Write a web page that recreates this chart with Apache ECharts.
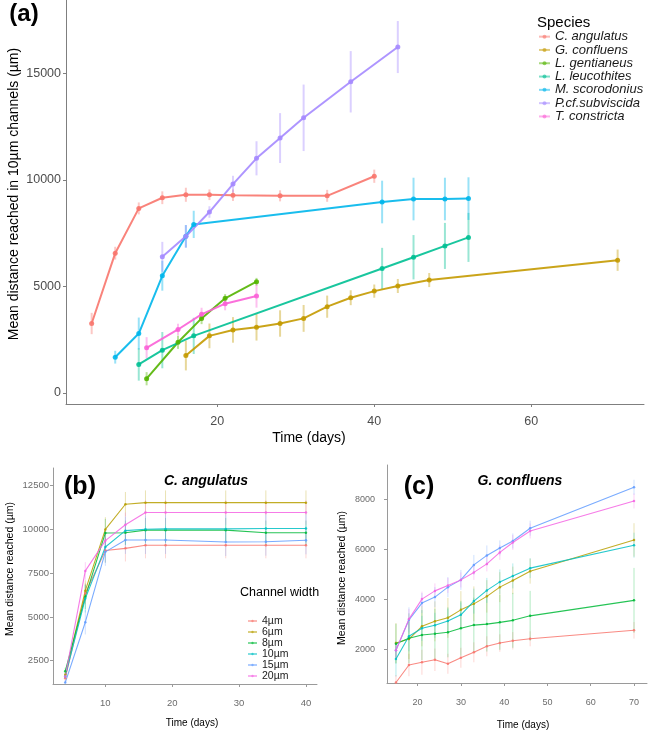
<!DOCTYPE html>
<html>
<head>
<meta charset="utf-8">
<script src="https://cdn.jsdelivr.net/npm/echarts@6/dist/echarts.min.js"></script>
<style>
  html, body { margin: 0; padding: 0; background: #fff; }
  #chart { width: 648px; height: 730px; }
</style>
</head>
<body>
<div id="chart"></div>
<script>
// ---- panel (a): species in 10um channels ----
const speciesNames = ['C. angulatus', 'G. confluens', 'L. gentianeus', 'L. leucothites', 'M. scorodonius', 'P.cf.subviscida', 'T. constricta'];
const speciesColors = ['#F8766D', '#C49A00', '#53B400', '#00C094', '#00B6EB', '#A58AFF', '#FB61D7'];

const angDays = [4, 7, 10, 13, 16, 19, 22, 28, 34, 40];
const angMean = [3260, 6560, 8660, 9160, 9300, 9300, 9280, 9250, 9250, 10170];
const angErr = [500, 300, 280, 300, 330, 250, 270, 260, 280, 310];

const gconDays = [16, 19, 22, 25, 28, 31, 34, 37, 40, 43, 47, 71];
const gconMean = [1760, 2680, 2960, 3080, 3260, 3500, 4050, 4470, 4780, 5020, 5300, 6230];
const gconErr = [700, 580, 600, 620, 620, 630, 520, 350, 310, 330, 330, 500];

const lgenDays = [11, 15, 18, 21, 25];
const lgenMean = [670, 2380, 3500, 4440, 5220];
const lgenErr = [310, 310, 270, 200, 180];

const lleuDays = [10, 13, 17, 41, 45, 49, 52];
const lleuMean = [1340, 2010, 2680, 5840, 6370, 6900, 7300];
const lleuErr = [760, 850, 850, 970, 1040, 1080, 1150];

const mscoDays = [7, 10, 13, 16, 17, 41, 45, 49, 52];
const mscoMean = [1680, 2790, 5500, 7350, 7910, 8960, 9100, 9100, 9120];
const mscoErr = [300, 750, 700, 530, 640, 1000, 1000, 1000, 1000];

const pcfDays = [13, 16, 19, 22, 25, 28, 31, 37, 43];
const pcfMean = [6390, 7350, 8490, 9800, 11010, 11960, 12910, 14600, 16230];
const pcfErr = [700, 530, 270, 390, 800, 1170, 1560, 1440, 1220];

const tconDays = [11, 15, 18, 21, 25];
const tconMean = [2120, 2980, 3690, 4190, 4550];
const tconErr = [500, 270, 310, 310, 545];

const aXTicks = [20, 40, 60];
const aYTicks = [0, 5000, 10000, 15000];

// ---- panel (b): C. angulatus by channel width ----
const widthNames = ['4µm', '6µm', '8µm', '10µm', '15µm', '20µm'];
const widthColors = ['#F8766D', '#B79F00', '#00BA38', '#00BFC4', '#619CFF', '#F564E3'];

const bDays = [4, 7, 10, 13, 16, 19, 28, 34, 40];
const b4 = [1500, 6350, 8800, 8920, 9100, 9100, 9100, 9100, 9100];
const b6 = [1700, 6500, 10000, 11440, 11530, 11530, 11530, 11530, 11530];
const b8 = [1900, 6150, 9800, 9810, 9960, 9960, 9960, 9810, 9810];
const b10 = [1600, 6050, 9000, 9930, 10010, 10030, 10030, 10050, 10050];
const b15 = [1250, 4700, 8720, 9400, 9400, 9400, 9280, 9300, 9380];
const b20 = [1600, 7630, 9360, 10270, 10970, 10970, 10970, 10970, 10970];
const b4Err = [150, 600, 700, 750, 750, 750, 750, 750, 750];
const b6Err = [150, 600, 700, 700, 700, 700, 700, 700, 700];
const b8Err = [200, 700, 800, 700, 700, 700, 700, 700, 700];
const b10Err = [150, 800, 900, 800, 800, 800, 800, 800, 800];
const b15Err = [150, 700, 800, 800, 800, 800, 800, 800, 800];
const b20Err = [150, 500, 700, 700, 700, 700, 700, 700, 700];
const bXTicks = [10, 20, 30, 40];
const bYTicks = [2500, 5000, 7500, 10000, 12500];

// ---- panel (c): G. confluens by channel width ----
const cDays = [15, 18, 21, 24, 27, 30, 33, 36, 39, 42, 46, 70];
const c4 = [660, 1360, 1470, 1570, 1410, 1650, 1870, 2110, 2240, 2330, 2410, 2750];
const c6 = [2240, 2400, 2910, 3110, 3250, 3570, 3810, 4110, 4480, 4750, 5120, 6370];
const c8 = [2210, 2430, 2560, 2610, 2670, 2830, 2960, 3000, 3070, 3150, 3330, 3950];
const c10 = [1600, 2510, 2830, 2950, 3120, 3370, 3920, 4350, 4690, 4930, 5240, 6160];
const c15 = [1950, 3170, 3840, 4080, 4480, 4770, 5370, 5750, 6050, 6330, 6840, 8480];
const c20 = [1950, 3200, 4000, 4330, 4550, 4770, 5070, 5410, 5870, 6270, 6730, 7930];
const c4Err = [300, 450, 500, 450, 400, 400, 400, 400, 350, 350, 300, 330];
const c6Err = [800, 800, 800, 800, 800, 750, 700, 650, 600, 550, 500, 670];
const c8Err = [800, 1000, 1000, 1000, 1000, 1100, 1100, 1100, 1100, 1100, 1000, 1300];
const c10Err = [700, 600, 500, 500, 500, 500, 500, 500, 500, 500, 400, 500];
const c15Err = [300, 500, 400, 400, 400, 400, 400, 400, 300, 300, 300, 300];
const c20Err = [300, 400, 300, 300, 300, 300, 300, 300, 300, 300, 300, 300];
const cXTicks = [20, 30, 40, 50, 60, 70];
const cYTicks = [2000, 4000, 6000, 8000];

const FONT = 'Liberation Sans, Arial, sans-serif';

function rgba(hex, a) {
  const n = parseInt(hex.slice(1), 16);
  return 'rgba(' + (n >> 16) + ',' + ((n >> 8) & 255) + ',' + (n & 255) + ',' + a + ')';
}

function lineSeries(name, days, means, color, gi, lw, sym, op) {
  return {
    name: name, type: 'line', xAxisIndex: gi, yAxisIndex: gi,
    data: days.map((d, i) => [d, means[i]]),
    symbol: 'circle', symbolSize: sym, showSymbol: true,
    itemStyle: { color: color, opacity: op },
    lineStyle: { color: color, width: lw, opacity: op },
    emphasis: { disabled: true }, z: 3
  };
}

function errSeries(days, means, errs, color, gi, lw, alpha) {
  return {
    type: 'custom', xAxisIndex: gi, yAxisIndex: gi, clip: true, silent: true, z: 2,
    data: days.map((d, i) => [d, means[i], errs[i]]),
    encode: { x: 0, y: 1 },
    renderItem: function (params, api) {
      const x = api.value(0), y = api.value(1), e = api.value(2);
      const p1 = api.coord([x, y - e]);
      const p2 = api.coord([x, y + e]);
      return {
        type: 'line',
        shape: { x1: p1[0], y1: p1[1], x2: p2[0], y2: p2[1] },
        style: { stroke: rgba(color, alpha), lineWidth: lw }
      };
    }
  };
}

function valueAxis(gi, min, max, ticks, o) {
  return {
    type: 'value', gridIndex: gi, min: min, max: max,
    splitLine: { show: false },
    axisLine: { show: true, onZero: false, lineStyle: { color: o.line, width: 1 } },
    axisTick: { show: true, length: 3, customValues: ticks, lineStyle: { color: o.line } },
    axisLabel: {
      customValues: ticks, color: o.label, fontSize: o.size, fontFamily: FONT, margin: o.margin,
      formatter: v => String(v)
    }
  };
}

const aSets = [
  [angDays, angMean, angErr], [gconDays, gconMean, gconErr], [lgenDays, lgenMean, lgenErr],
  [lleuDays, lleuMean, lleuErr], [mscoDays, mscoMean, mscoErr], [pcfDays, pcfMean, pcfErr],
  [tconDays, tconMean, tconErr]
];
const bSets = [[b4, b4Err], [b6, b6Err], [b8, b8Err], [b10, b10Err], [b15, b15Err], [b20, b20Err]];
const cSets = [[c4, c4Err], [c6, c6Err], [c8, c8Err], [c10, c10Err], [c15, c15Err], [c20, c20Err]];

const series = [];
aSets.forEach((s, i) => {
  series.push(lineSeries(speciesNames[i], s[0], s[1], speciesColors[i], 0, 2, 5, 0.9));
  series.push(errSeries(s[0], s[1], s[2], speciesColors[i], 0, 2, 0.4));
});
bSets.forEach((s, i) => {
  series.push(lineSeries(widthNames[i], bDays, s[0], widthColors[i], 1, 1.1, 2.5, 0.85));
  series.push(errSeries(bDays, s[0], s[1], widthColors[i], 1, 1, 0.3));
});
cSets.forEach((s, i) => {
  series.push(lineSeries(widthNames[i], cDays, s[0], widthColors[i], 2, 1.1, 2.5, 0.85));
  series.push(errSeries(cDays, s[0], s[1], widthColors[i], 2, 1, 0.3));
});

function txt(x, y, text, size, extra) {
  return Object.assign({
    type: 'text', x: x, y: y, silent: true,
    style: Object.assign({
      text: text, fontSize: size, fontFamily: FONT, fill: '#000',
      align: 'center', verticalAlign: 'middle'
    }, extra && extra.style)
  }, extra && extra.el);
}

const chart = echarts.init(document.getElementById('chart'), null, { renderer: 'canvas' });

const aAxis = { line: '#7f7f7f', label: '#4d4d4d', size: 12.5 };
const smallAxis = { line: '#9a9a9a', label: '#6b6b6b', size: 9.5 };

const option = {
  backgroundColor: '#fff',
  animation: false,
  grid: [
    { left: 66, top: 0, width: 578, height: 404, outerBoundsMode: 'none' },
    { left: 53, top: 468, width: 264, height: 216, outerBoundsMode: 'none' },
    { left: 387, top: 465, width: 260, height: 218, outerBoundsMode: 'none' }
  ],
  xAxis: [
    valueAxis(0, 0.73, 74.36, aXTicks, Object.assign({ margin: 11 }, aAxis)),
    valueAxis(1, 2.17, 41.65, bXTicks, Object.assign({ margin: 14 }, smallAxis)),
    valueAxis(2, 12.93, 73.0, cXTicks, Object.assign({ margin: 15 }, smallAxis, { size: 9 }))
  ],
  yAxis: [
    valueAxis(0, -516, 18437, aYTicks, Object.assign({ margin: 5 }, aAxis)),
    valueAxis(1, 1169, 13511, bYTicks, Object.assign({ margin: 4 }, smallAxis)),
    valueAxis(2, 640, 9372, cYTicks, Object.assign({ margin: 12 }, smallAxis, { size: 9 }))
  ],
  legend: [
    {
      data: speciesNames, orient: 'vertical', left: 538, top: 30, padding: 0,
      itemWidth: 11, itemHeight: 5, itemGap: 0, selectedMode: false,
      itemStyle: { opacity: 0.6 }, lineStyle: { opacity: 0.5 },
      textStyle: { fontSize: 13, fontStyle: 'italic', fontFamily: FONT, color: '#1a1a1a', lineHeight: 13.3 }
    },
    {
      data: widthNames, orient: 'vertical', left: 247, top: 615.5, padding: 0,
      itemWidth: 9, itemHeight: 3, itemGap: 0, selectedMode: false,
      itemStyle: { opacity: 0.6 }, lineStyle: { opacity: 0.5 },
      textStyle: { fontSize: 10.5, fontFamily: FONT, color: '#1a1a1a', lineHeight: 9.7 }
    }
  ],
  graphic: [
    txt(24, 14, '(a)', 24, { style: { fontWeight: 'bold' } }),
    txt(14, 194, 'Mean distance reached in 10µm channels (µm)', 14, { el: { rotation: Math.PI / 2 } }),
    txt(309, 438, 'Time (days)', 14),
    txt(537, 22.5, 'Species', 15, { style: { align: 'left' } }),

    txt(80, 487, '(b)', 25, { style: { fontWeight: 'bold' } }),
    txt(206, 481, 'C. angulatus', 14, { style: { fontWeight: 'bold', fontStyle: 'italic' } }),
    txt(10, 569, 'Mean distance reached (µm)', 10.5, { el: { rotation: Math.PI / 2 } }),
    txt(192, 723, 'Time (days)', 10),
    txt(240, 593, 'Channel width', 12.5, { style: { align: 'left' } }),

    txt(419, 487, '(c)', 25, { style: { fontWeight: 'bold' } }),
    txt(520, 481, 'G. confluens', 14, { style: { fontWeight: 'bold', fontStyle: 'italic' } }),
    txt(342, 578, 'Mean distance reached (µm)', 10.5, { el: { rotation: Math.PI / 2 } }),
    txt(523, 725, 'Time (days)', 10)
  ],
  series: series
};

chart.setOption(option);
</script>
</body>
</html>
